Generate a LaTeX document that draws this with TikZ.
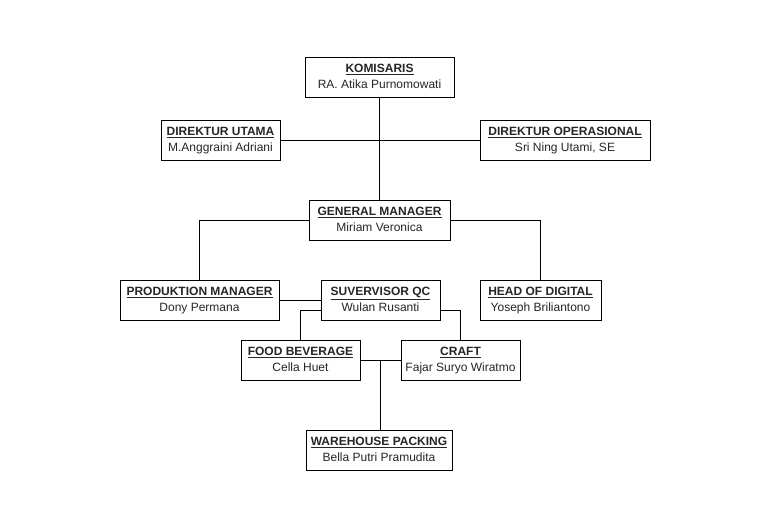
\documentclass[tikz,border=0pt]{standalone}
\usepackage{fontspec}
\setmainfont{Liberation Sans}
\usetikzlibrary{calc}
\tikzset{
  orgbox/.style={draw=black, line width=0.9pt, fill=white, rectangle, align=center,
    inner sep=0pt, font=\fontsize{12}{16}\selectfont, text=black!85},
  link/.style={draw=black, line width=0.9pt}
}
\newcommand{\ttl}[1]{\strut\textbf{\underline{#1}}}
\newcommand{\nm}[1]{\strut #1}
\begin{document}
\begin{tikzpicture}[x=1pt,y=-1pt]
\useasboundingbox (0,0) rectangle (762,519);
\node[orgbox, minimum width=149pt, minimum height=40pt] (kom) at (379.5,77.5) {\ttl{KOMISARIS}\\\nm{RA. Atika Purnomowati}};
\node[orgbox, minimum width=119pt, minimum height=40pt] (du) at (220.5,140) {\ttl{DIREKTUR UTAMA}\\\nm{M.Anggraini Adriani}};
\node[orgbox, minimum width=170pt, minimum height=40pt] (do) at (565,140) {\ttl{DIREKTUR OPERASIONAL}\\\nm{Sri Ning Utami, SE}};
\node[orgbox, minimum width=141pt, minimum height=40pt] (gm) at (379.5,220) {\ttl{GENERAL MANAGER}\\\nm{Miriam Veronica}};
\node[orgbox, minimum width=159pt, minimum height=40pt] (pm) at (199.5,300) {\ttl{PRODUKTION MANAGER}\\\nm{Dony Permana}};
\node[orgbox, minimum width=119pt, minimum height=40pt] (sqc) at (380.5,300) {\ttl{SUVERVISOR QC}\\\nm{Wulan Rusanti}};
\node[orgbox, minimum width=121pt, minimum height=40pt] (hod) at (540.5,300) {\ttl{HEAD OF DIGITAL}\\\nm{Yoseph Briliantono}};
\node[orgbox, minimum width=119pt, minimum height=40pt] (fb) at (300.5,360) {\ttl{FOOD BEVERAGE}\\\nm{Cella Huet}};
\node[orgbox, minimum width=119pt, minimum height=40pt] (cr) at (460.5,360) {\ttl{CRAFT}\\\nm{Fajar Suryo Wiratmo}};
\node[orgbox, minimum width=146pt, minimum height=40pt] (wp) at (379,450) {\ttl{WAREHOUSE PACKING}\\\nm{Bella Putri Pramudita}};
% connectors
\draw[link] (kom.south) -- (gm.north);
\draw[link] (du.east) -- (do.west);
\draw[link] (gm.west) -| (pm.north);
\draw[link] (gm.east) -| (hod.north);
\draw[link] (pm.east) -- (sqc.west);
\draw[link] ([yshift=-10pt]sqc.west) -| (fb.north);
\draw[link] ([yshift=-10pt]sqc.east) -| (cr.north);
\draw[link] (fb.east) -- (cr.west);
\coordinate (j) at ($(fb.east)!0.5!(cr.west)$);
\draw[link] (j) -- (j |- wp.north);
\end{tikzpicture}
\end{document}
